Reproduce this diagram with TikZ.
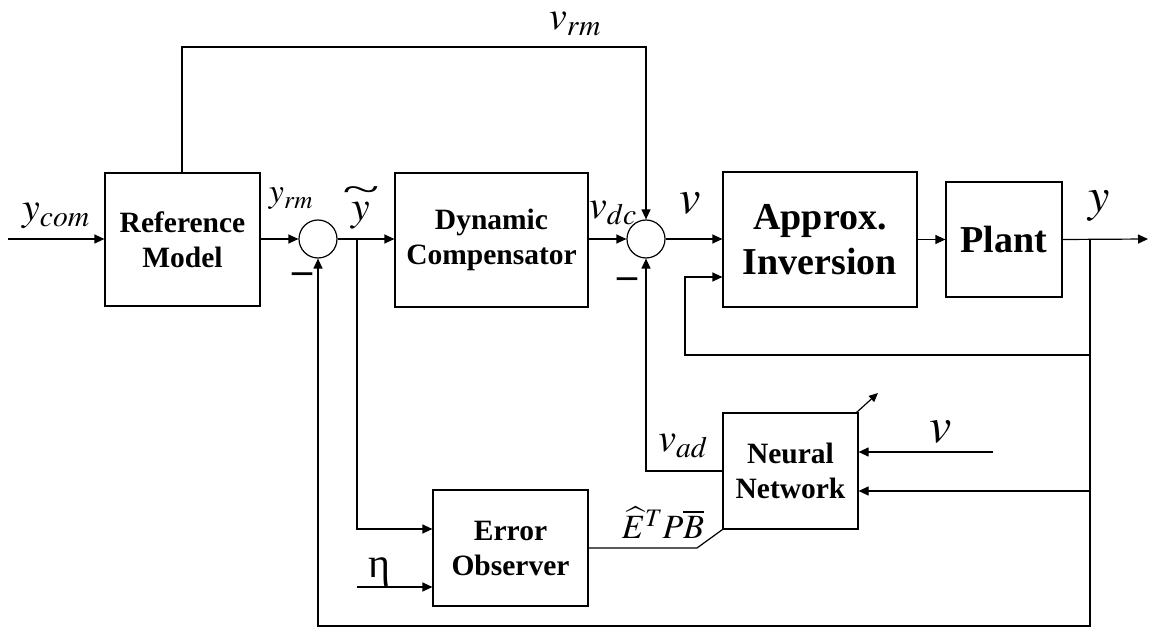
\documentclass[tikz,border=0pt]{standalone}
\usepackage{mathptmx}
\usepackage[no-math]{fontspec}
\setmainfont{Liberation Serif}
\usetikzlibrary{arrows.meta,calc}

\newcommand\msize[2]{{\fontsize{#1}{#1}\selectfont$#2$}}

\tikzset{
  wire/.style={line width=1.2pt},
  arr/.style={wire,-{Triangle[length=10pt,width=9pt]}},
  blk/.style={draw,line width=1.2pt,rectangle,inner sep=0pt,align=center,
    font=\fontsize{29.5}{35}\selectfont\bfseries},
  bigblk/.style={blk,font=\fontsize{38}{45}\selectfont\bfseries},
  sumj/.style={draw,line width=1.2pt,circle,minimum size=38pt,inner sep=0pt},
  lbl/.style={inner sep=0pt},
  minus/.style={inner sep=0pt,font=\fontsize{40}{40}\selectfont\bfseries}
}

\begin{document}
\begin{tikzpicture}[x=1pt,y=-1pt]
\useasboundingbox (0,0) rectangle (1157,628);

% blocks
\node[blk,minimum width=155pt,minimum height=133pt] (refm) at (182.5,239.5) {Reference\\Model};
\node[sumj] (s1) at (318,239) {};
\node[blk,minimum width=193pt,minimum height=134pt] (dyn) at (491.5,240) {Dynamic\\Compensator};
\node[sumj] (s2) at (646,239) {};
\node[bigblk,minimum width=194pt,minimum height=135pt] (appr) at (820,239.5) {Approx.\\Inversion};
\node[bigblk,minimum width=116pt,minimum height=115pt] (plant) at (1004,239.5) {Plant};
\node[blk,minimum width=135pt,minimum height=116pt] (nn) at (790.5,471) {Neural\\Network};
\node[blk,minimum width=155pt,minimum height=116pt] (eo) at (510.5,548) {Error\\Observer};

% junction and end points
\coordinate (yin) at (8,239);
\coordinate (yout) at (1148,239);
\coordinate (ybr) at (1090,239);
\coordinate (etabr) at (357,239);
\coordinate (rmtop) at (182,47);
\coordinate (rmright) at (646,47);
\coordinate (fbot) at (1090,626);
\coordinate (finv) at (1090,355);
\coordinate (finvl) at (685,355);
\coordinate (fnn) at (1090,491);
\coordinate (vin) at (993,452);
\coordinate (etain) at (357,587);
\coordinate (eobend) at (697,548);
\coordinate (nnout) at (878,393);

% main forward path
\draw[arr] (yin) -- (refm.west |- yin);
\draw[arr] (refm.east |- s1) -- (s1.west);
\draw[arr] (s1.east) -- (dyn.west |- s1);
\draw[arr] (dyn.east |- s2) -- (s2.west);
\draw[arr] (s2.east) -- (appr.west |- s2);
\draw[arr] (appr.east |- plant) -- (plant.west);
\draw[arr] (plant.east) -- (yout);

% reference model feed-forward
\draw[arr] (refm.north -| rmtop) -- (rmtop) -- (rmright) -- (s2.north);

% output feedback to first summing junction
\draw[arr] (ybr) -- (fbot) -| (s1.south);

% output feedback to inversion
\draw[arr] (finv) -- (finvl) |- (appr.west |- 0,277);

% output feedback to neural network
\draw[arr] (fnn) -- (nn.east |- fnn);
\draw[arr] (vin) -- (nn.east |- vin);

% adaptive signal back to second junction
\draw[arr] (nn.west) -| (s2.south);

% tracking error to observer
\draw[arr] (etabr) |- (eo.west |- 0,529);
\draw[arr] (etain) -- (eo.west |- etain);

% observer output to network
\draw[wire] (eo.east) -- (eobend) -- (nn.south west);

% adaptation arrow
\draw[wire,-{Triangle[length=9pt,width=8pt]}] ($(nn.north east)+(-2,0)$) -- (nnout);

% signal labels
\node[lbl] (lycom) at (56,216) {\msize{40}{y_{com}}};
\node[lbl] (lyrm) at (291,199) {\msize{34}{y_{rm}}};
\node[lbl] (lyt) at (361,216) {\msize{42}{y}};
\node[lbl,font=\fontsize{40}{40}\selectfont] (lytt) at (361,194) {\scalebox{1.7}[0.9]{\char`\~}};
\node[lbl] (lvdc) at (613,213) {\msize{40}{v_{dc}}};
\node[lbl] (lv) at (690,203) {\msize{48}{v}};
\node[lbl] (lvrm) at (575,24) {\msize{40}{v_{rm}}};
\node[lbl] (ly) at (1099,206) {\msize{48}{y}};
\node[lbl] (lvad) at (683,446) {\msize{40}{v_{ad}}};
\node[lbl] (lvn) at (941,432) {\msize{50}{v}};
\node[lbl] (lepb) at (663,523) {\msize{34}{\widehat{E}^{T}P\overline{B}}};
\node[lbl] (leta) at (379,572) {\fontsize{42}{42}\selectfont η};
\node[minus] (m1) at (302,278) {\textendash};
\node[minus] (m2) at (627,283) {\textendash};
\end{tikzpicture}
\end{document}
